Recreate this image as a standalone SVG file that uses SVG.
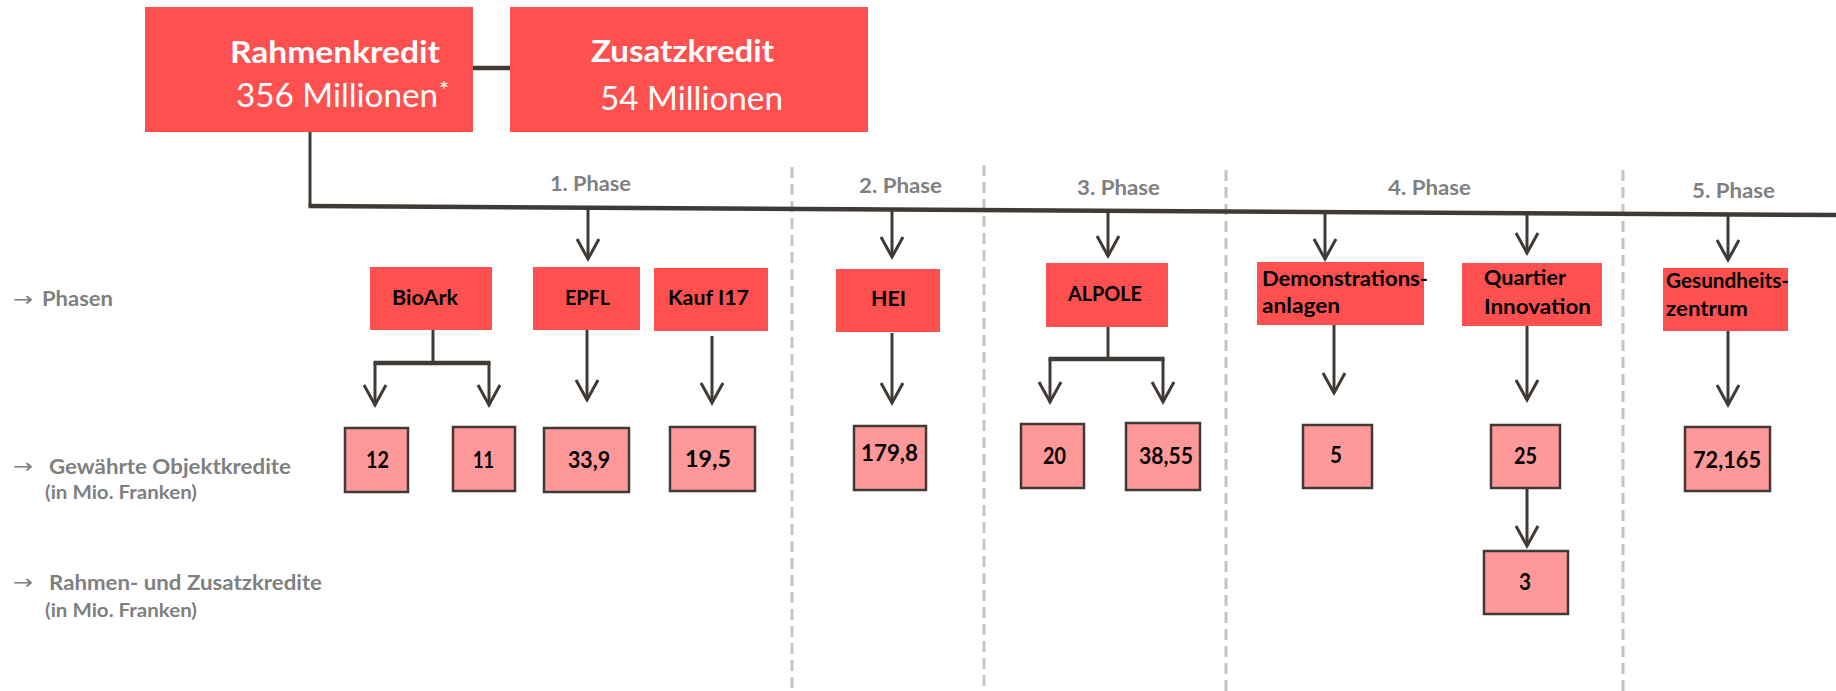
<svg xmlns="http://www.w3.org/2000/svg" width="1836" height="691" viewBox="0 0 1836 691">
<style>
.top{fill:#FF5050}
.ph{fill:#FF5050}
.cr{fill:#FF9999;stroke:#403a37;stroke-width:2.5}
.wb{font-family:Lato,"Liberation Sans",sans-serif;font-weight:bold;fill:#fff}
.wr{font-family:Lato,"Liberation Sans",sans-serif;fill:#fff}
.gl{font-family:Lato,"Liberation Sans",sans-serif;font-weight:bold;fill:#7f7f7f}
.bk{font-family:Lato,"Liberation Sans",sans-serif;font-weight:bold;fill:#000;font-size:21px}
.num{font-family:Lato,"Liberation Sans",sans-serif;font-weight:bold;fill:#000;font-size:22px}
.ln{stroke:#403a37;stroke-width:3;fill:none}
.thick{stroke:#403a37;stroke-width:4.5;fill:none}
.arr{stroke:#403a37;stroke-width:3;fill:none;marker-end:url(#ah)}
.dash{stroke:#c4c4c4;stroke-width:3;stroke-dasharray:11 6;fill:none}
</style>
<defs>
<marker id="ah" markerUnits="userSpaceOnUse" viewBox="-2 -14 26 28" markerWidth="26" markerHeight="28" refX="20" refY="0" orient="auto">
<path d="M0,-11 L20,0 L0,11" fill="none" stroke="#403a37" stroke-width="3"/>
</marker>
</defs>
<rect width="1836" height="691" fill="#fff"/>

<g id="separators">
<line class="dash" x1="792" y1="167" x2="792" y2="691"/>
<line class="dash" x1="984" y1="165" x2="984" y2="691"/>
<line class="dash" x1="1226" y1="170" x2="1226" y2="691"/>
<line class="dash" x1="1623" y1="170" x2="1623" y2="691"/>
</g>

<g id="phase-labels" class="gl" font-size="20">
<text x="550" y="191" textLength="81" lengthAdjust="spacingAndGlyphs">1. Phase</text>
<text x="859" y="193" textLength="83" lengthAdjust="spacingAndGlyphs">2. Phase</text>
<text x="1077" y="195" textLength="83" lengthAdjust="spacingAndGlyphs">3. Phase</text>
<text x="1388" y="195" textLength="83" lengthAdjust="spacingAndGlyphs">4. Phase</text>
<text x="1692" y="198" textLength="83" lengthAdjust="spacingAndGlyphs">5. Phase</text>
</g>

<g id="row-labels" class="gl">
<text x="13" y="306" font-size="20" font-family="'DejaVu Sans',sans-serif" font-weight="normal" textLength="20" lengthAdjust="spacingAndGlyphs">→</text>
<text x="42" y="306" font-size="21" textLength="71" lengthAdjust="spacingAndGlyphs">Phasen</text>
<text x="13" y="473" font-size="20" font-family="'DejaVu Sans',sans-serif" font-weight="normal" textLength="20" lengthAdjust="spacingAndGlyphs">→</text>
<text x="49" y="474" font-size="21" textLength="242" lengthAdjust="spacingAndGlyphs">Gewährte Objektkredite</text>
<text x="45" y="499" font-size="18" textLength="152" lengthAdjust="spacingAndGlyphs">(in Mio. Franken)</text>
<text x="13" y="589" font-size="20" font-family="'DejaVu Sans',sans-serif" font-weight="normal" textLength="20" lengthAdjust="spacingAndGlyphs">→</text>
<text x="49" y="590" font-size="21" textLength="273" lengthAdjust="spacingAndGlyphs">Rahmen- und Zusatzkredite</text>
<text x="45" y="617" font-size="18" textLength="152" lengthAdjust="spacingAndGlyphs">(in Mio. Franken)</text>
</g>

<g id="connectors">
<line class="thick" x1="473" y1="68" x2="510" y2="68"/>
<polyline class="ln" points="310,132 310,206"/>
<line class="thick" x1="308.5" y1="206" x2="1836" y2="215"/>
<line class="arr" x1="588" y1="208" x2="588" y2="259"/>
<line class="arr" x1="892" y1="209" x2="892" y2="257"/>
<line class="arr" x1="1108" y1="211" x2="1108" y2="256"/>
<line class="arr" x1="1325" y1="212" x2="1325" y2="259"/>
<line class="arr" x1="1527" y1="213" x2="1527" y2="253"/>
<line class="arr" x1="1728" y1="214" x2="1728" y2="260"/>
<line class="ln" x1="433" y1="330" x2="433" y2="363"/>
<line class="thick" x1="373.5" y1="363" x2="490.5" y2="363"/>
<line class="arr" x1="375" y1="363" x2="375" y2="405"/>
<line class="arr" x1="489" y1="363" x2="489" y2="405"/>
<line class="arr" x1="587" y1="330" x2="587" y2="400"/>
<line class="arr" x1="712" y1="336" x2="712" y2="403"/>
<line class="arr" x1="892" y1="333" x2="892" y2="403"/>
<line class="ln" x1="1108" y1="327" x2="1108" y2="359"/>
<line class="thick" x1="1048.5" y1="359" x2="1164.5" y2="359"/>
<line class="arr" x1="1050" y1="359" x2="1050" y2="402"/>
<line class="arr" x1="1163" y1="359" x2="1163" y2="402"/>
<line class="arr" x1="1334" y1="323" x2="1334" y2="393"/>
<line class="arr" x1="1527" y1="326" x2="1527" y2="400"/>
<line class="arr" x1="1728" y1="330" x2="1728" y2="405"/>
<line class="arr" x1="1527" y1="488" x2="1527" y2="546"/>
</g>

<g id="rahmenkredit">
<rect class="top" x="145" y="7" width="328" height="125"/>
<text class="wb" x="230" y="63" font-size="31" textLength="210" lengthAdjust="spacingAndGlyphs">Rahmenkredit</text>
<text class="wr" x="236" y="107" font-size="33" textLength="202" lengthAdjust="spacingAndGlyphs">356 Millionen</text>
<text class="wr" x="439" y="98" font-size="24">*</text>
</g>
<g id="zusatzkredit">
<rect class="top" x="510" y="7" width="358" height="125"/>
<text class="wb" x="591" y="62" font-size="31" textLength="183" lengthAdjust="spacingAndGlyphs">Zusatzkredit</text>
<text class="wr" x="600" y="110" font-size="33" textLength="183" lengthAdjust="spacingAndGlyphs">54 Millionen</text>
</g>

<g id="bioark"><rect class="ph" x="370" y="267" width="122" height="63"/><text class="bk" x="392" y="305" textLength="66" lengthAdjust="spacingAndGlyphs">BioArk</text></g>
<g id="epfl"><rect class="ph" x="533" y="267" width="107" height="63"/><text class="bk" x="565" y="305" textLength="45" lengthAdjust="spacingAndGlyphs">EPFL</text></g>
<g id="kauf"><rect class="ph" x="654" y="268" width="114" height="63"/><text class="bk" x="668" y="305" textLength="81" lengthAdjust="spacingAndGlyphs">Kauf I17</text></g>
<g id="hei"><rect class="ph" x="836" y="269" width="104" height="63"/><text class="bk" x="871" y="306" textLength="35" lengthAdjust="spacingAndGlyphs">HEI</text></g>
<g id="alpole"><rect class="ph" x="1046" y="263" width="122" height="64"/><text class="bk" x="1068" y="301" textLength="74" lengthAdjust="spacingAndGlyphs">ALPOLE</text></g>
<g id="demonstration"><rect class="ph" x="1257" y="262" width="167" height="63"/><text class="bk" x="1262" y="286" textLength="166" lengthAdjust="spacingAndGlyphs">Demonstrations-</text><text class="bk" x="1262" y="313" textLength="78" lengthAdjust="spacingAndGlyphs">anlagen</text></g>
<g id="quartier"><rect class="ph" x="1462" y="263" width="140" height="63"/><text class="bk" x="1484" y="285" textLength="82" lengthAdjust="spacingAndGlyphs">Quartier</text><text class="bk" x="1484" y="314" textLength="107" lengthAdjust="spacingAndGlyphs">Innovation</text></g>
<g id="gesundheit"><rect class="ph" x="1663" y="268" width="125" height="63"/><text class="bk" x="1666" y="288" textLength="123" lengthAdjust="spacingAndGlyphs">Gesundheits-</text><text class="bk" x="1666" y="316" textLength="82" lengthAdjust="spacingAndGlyphs">zentrum</text></g>

<g id="c12"><rect class="cr" x="345" y="428" width="63" height="64"/><text class="num" x="366" y="468" textLength="23" lengthAdjust="spacingAndGlyphs">12</text></g>
<g id="c11"><rect class="cr" x="453" y="427" width="62" height="64"/><text class="num" x="473" y="468" textLength="21" lengthAdjust="spacingAndGlyphs">11</text></g>
<g id="c339"><rect class="cr" x="544" y="428" width="85" height="64"/><text class="num" x="568" y="468" textLength="42" lengthAdjust="spacingAndGlyphs">33,9</text></g>
<g id="c195"><rect class="cr" x="670" y="427" width="85" height="64"/><text class="num" x="685" y="467" textLength="46" lengthAdjust="spacingAndGlyphs">19,5</text></g>
<g id="c1798"><rect class="cr" x="854" y="426" width="72" height="64"/><text class="num" x="861" y="461" textLength="57" lengthAdjust="spacingAndGlyphs">179,8</text></g>
<g id="c20"><rect class="cr" x="1021" y="424" width="63" height="64"/><text class="num" x="1043" y="464" textLength="23" lengthAdjust="spacingAndGlyphs">20</text></g>
<g id="c3855"><rect class="cr" x="1126" y="423" width="74" height="67"/><text class="num" x="1139" y="464" textLength="54" lengthAdjust="spacingAndGlyphs">38,55</text></g>
<g id="c5"><rect class="cr" x="1303" y="425" width="69" height="63"/><text class="num" x="1330" y="463" textLength="12" lengthAdjust="spacingAndGlyphs">5</text></g>
<g id="c25"><rect class="cr" x="1491" y="425" width="69" height="63"/><text class="num" x="1514" y="464" textLength="23" lengthAdjust="spacingAndGlyphs">25</text></g>
<g id="c72165"><rect class="cr" x="1685" y="427" width="85" height="64"/><text class="num" x="1693" y="468" textLength="68" lengthAdjust="spacingAndGlyphs">72,165</text></g>
<g id="c3"><rect class="cr" x="1484" y="551" width="84" height="63"/><text class="num" x="1519" y="590" textLength="12" lengthAdjust="spacingAndGlyphs">3</text></g>
</svg>
